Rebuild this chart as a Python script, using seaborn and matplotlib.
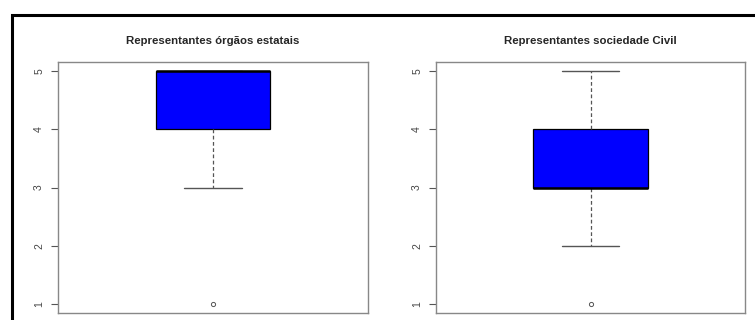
import matplotlib
matplotlib.use("Agg")
import matplotlib.pyplot as plt
from matplotlib.patches import Rectangle
import seaborn as sns

# Scores given by each group of representatives
estatais = [1, 3, 4, 4, 5, 5, 5, 5, 5, 5, 5]
sociedade_civil = [1, 2, 3, 3, 3, 3, 4, 4, 4, 5, 5]
titles = ["Representantes órgãos estatais", "Representantes sociedade Civil"]
yticks = [1, 2, 3, 4, 5]

sns.set_style("white")
plt.rcParams["font.family"] = ["Liberation Sans", "DejaVu Sans"]

W, H = 755, 320
fig = plt.figure(figsize=(W / 100, H / 100), dpi=100)

# outer frame
fx0 = 12 / W
fy1 = 1 - 15 / H
fig.patches.append(Rectangle((fx0, -0.2), 1.5, fy1 + 0.2, transform=fig.transFigure,
                             fill=False, edgecolor="black", linewidth=2.2, clip_on=False))

ax_rects = [
    [58 / W, 7 / H, 310 / W, 251 / H],
    [436 / W, 7 / H, 309 / W, 251 / H],
]

for rect, values, title in zip(ax_rects, [estatais, sociedade_civil], titles):
    ax = fig.add_axes(rect)
    sns.boxplot(
        y=values, ax=ax, color="#0000ff", saturation=1, width=0.4,
        linecolor="black", linewidth=0.9,
        medianprops=dict(color="black", linewidth=1.8),
        whiskerprops=dict(color="#555555", linestyle=(0, (3, 2)), linewidth=0.9),
        capprops=dict(color="#555555", linewidth=1.0),
        flierprops=dict(marker="o", markersize=3, markerfacecolor="none",
                        markeredgecolor="#555555", markeredgewidth=0.7),
    )
    ax.set_xlim(-0.54, 0.54)
    ax.set_ylim(0.84, 5.16)
    ax.set_xticks([])
    ax.set_yticks(yticks)
    ax.set_yticklabels([str(t) for t in yticks], rotation=90, va="center",
                       fontsize=7.5, color="#444444")
    ax.tick_params(axis="y", left=True, length=5, width=0.8, color="#555555", pad=5)
    ax.set_ylabel("")
    for sp in ax.spines.values():
        sp.set_color("#888888")
        sp.set_linewidth(1.0)
    ax.set_title(title, fontsize=8.2, fontweight="bold", pad=13)

fig.savefig("out.png", dpi=100)
